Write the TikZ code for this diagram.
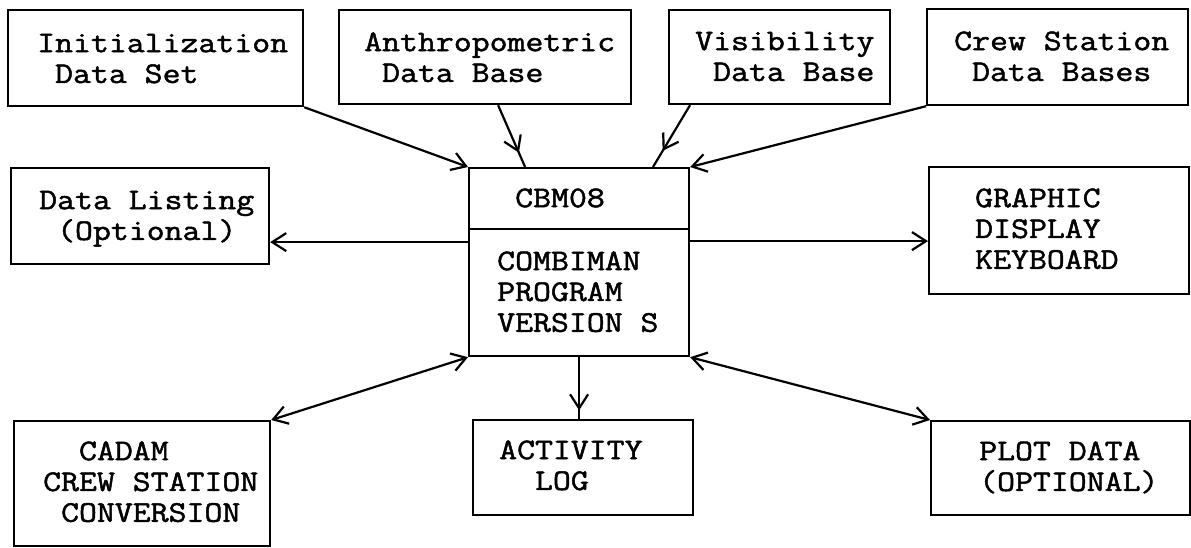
\documentclass[tikz,border=0pt]{standalone}
\usepackage{fontspec}
\newfontfamily\tw[FakeBold=1.6,FakeStretch=1.16]{Latin Modern Mono}
\usetikzlibrary{arrows.meta,decorations.markings}
\newcommand\ind{\hphantom{0}}
\newcommand\twfont{\tw\fontsize{30}{30.8}\selectfont\lineskiplimit-30pt\relax}
\begin{document}
\begin{tikzpicture}[x=1pt,y=-1pt,
  box/.style={draw, line width=2.2pt, anchor=north west, inner sep=0pt, minimum width=#1},
  txt/.style={anchor=north west, inner sep=0pt, align=left, font=\twfont},
  conn/.style={line width=2.2pt},
  barb/.style={line width=2.2pt, -{Straight Barb[length=14pt,width=18pt]}},
  twobarb/.style={line width=2.2pt, {Straight Barb[length=14pt,width=18pt]}-{Straight Barb[length=14pt,width=18pt]}},
  midbarb/.style={line width=2.2pt, postaction={decorate}, decoration={markings, mark=at position #1 with {\arrow{Straight Barb[length=14pt,width=18pt]}}}}
]
\useasboundingbox (0,0) rectangle (1191,547);

% boxes
\node[box=295pt, minimum height=96pt] (init) at (7,9) {};
\node[box=292pt, minimum height=94pt] (anthro) at (338,9) {};
\node[box=221pt, minimum height=94pt] (vis) at (668,9) {};
\node[box=261pt, minimum height=96pt] (crew) at (926,8) {};
\node[box=258pt, minimum height=96pt] (dlist) at (10,167) {};
\node[box=220pt, minimum height=188pt] (cbm) at (468,167) {};
\node[box=260pt, minimum height=127pt] (graph) at (928,166) {};
\node[box=256pt, minimum height=125pt] (cadam) at (13,420) {};
\node[box=220pt, minimum height=95pt] (act) at (472,419) {};
\node[box=259pt, minimum height=94pt] (plot) at (930,420) {};
\coordinate (divL) at (468,229);
\draw[conn] (divL) -- (divL -| cbm.east);

% texts
\node[txt] (tinit) at (37,30.4) {\strut Initialization\\\ind Data Set};
\node[txt] (tanthro) at (364,29.4) {\strut Anthropometric\\\ind Data Base};
\node[txt] (tvis) at (695,28.4) {\strut Visibility\\\ind Data Base};
\node[txt] (tcrew) at (954,28.4) {\strut Crew Station\\\ind Data Bases};
\node[txt] (tdlist) at (39,187.4) {\strut Data Listing\\\ind(Optional)};
\node[txt] (tcbm) at (515,185.4) {\strut CBM08};
\node[txt] (tprog) at (497,248.4) {\strut COMBIMAN\\PROGRAM\\VERSION S};
\node[txt] (tgraph) at (975,185.4) {\strut GRAPHIC\\DISPLAY\\KEYBOARD};
\node[txt] (tcadam) at (43,438.4) {\strut\ind\ind CADAM\\CREW STATION\\\ind CONVERSION};
\node[txt] (tact) at (499,437.4) {\strut ACTIVITY\\\ind\ind LOG};
\node[txt] (tplot) at (979,438.4) {\strut PLOT DATA\\(OPTIONAL)};

% connectors
\draw[barb] (init.south east) -- (cbm.north west);
\draw[midbarb=0.77] ([xshift=13pt]anthro.south) -- ([xshift=-54pt]cbm.north);
\draw[midbarb=0.74] ([xshift=22pt]vis.south west) -- ([xshift=185pt]cbm.north west);
\draw[barb] (crew.south west) -- (cbm.north east);
\coordinate (mL) at ([yshift=20pt]cbm.west);
\coordinate (mR) at ([yshift=21pt]cbm.east);
\draw[barb] (mL) -- (mL -| dlist.east);
\draw[barb] (mR) -- (mR -| graph.west);
\draw[twobarb] (cadam.north east) -- (cbm.south west);
\draw[midbarb=0.86] (cbm.south) -- (cbm.south |- act.north);
\draw[twobarb] (plot.north west) -- (cbm.south east);
\end{tikzpicture}
\end{document}
